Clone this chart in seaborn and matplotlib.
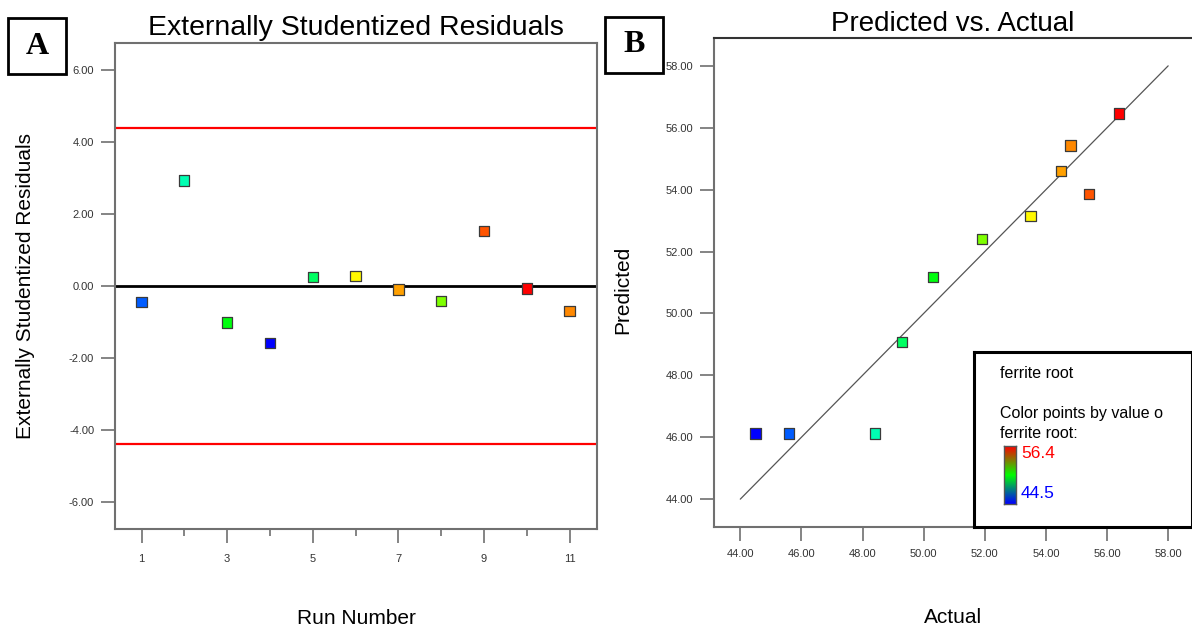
import colorsys

import matplotlib
matplotlib.use("Agg")
import matplotlib.pyplot as plt
from matplotlib.colors import ListedColormap, LinearSegmentedColormap
from matplotlib.patches import Rectangle
import numpy as np
import pandas as pd
import seaborn as sns

# ---- data -------------------------------------------------------------
run_number = [1, 2, 3, 4, 5, 6, 7, 8, 9, 10, 11]
ext_student_resid = [-0.44, 2.93, -1.01, -1.59, 0.25, 0.28, -0.10, -0.42, 1.52, -0.07, -0.69]
actual = [45.6, 48.4, 50.3, 44.5, 49.3, 53.5, 54.5, 51.9, 55.4, 56.4, 54.8]
predicted = [46.12, 46.12, 51.17, 46.12, 49.07, 53.14, 54.61, 52.40, 53.87, 56.46, 55.43]
outlier_limit = 4.40
ferrite_min, ferrite_max = 44.5, 56.4
diag_line = [44.0, 58.0]

a_xticks = [1, 3, 5, 7, 9, 11]
a_yticks = [-6, -4, -2, 0, 2, 4, 6]
b_ticks = [44, 46, 48, 50, 52, 54, 56, 58]

df = pd.DataFrame({"run": run_number, "resid": ext_student_resid,
                   "actual": actual, "predicted": predicted})

# ---- style ------------------------------------------------------------
sns.set_theme(style="ticks")
plt.rcParams["font.family"] = ["Liberation Sans", "DejaVu Sans"]
plt.rcParams["text.color"] = "black"
plt.rcParams["axes.labelcolor"] = "black"
SPINE = "#707070"
TICKFONT = dict(family=["Liberation Sans Narrow", "Liberation Sans", "DejaVu Sans"],
                size=8, color="#333333")

# hue sweep blue -> cyan -> green -> yellow -> red for the point colours
hue_cmap = ListedColormap([colorsys.hsv_to_rgb(h, 1.0, 1.0)
                           for h in np.linspace(240 / 360, 0, 256)])
# scale bar shading in the key box
bar_cmap = LinearSegmentedColormap.from_list("rgb_bar", ["#0000ff", "#00ff00", "#ff0000"])

W, H = 1192, 635
fig = plt.figure(figsize=(W / 100, H / 100), dpi=100)
fig.patch.set_facecolor("white")


def px_axes(x0, y0, x1, y1, **kw):
    return fig.add_axes([x0 / W, 1 - y1 / H, (x1 - x0) / W, (y1 - y0) / H], **kw)


def style_axes(ax):
    for s in ax.spines.values():
        s.set_color(SPINE)
        s.set_linewidth(1.5)
    ax.tick_params(which="both", direction="out", color=SPINE, width=1.2)
    ax.tick_params(which="major", length=10, pad=5)
    for lab in ax.get_xticklabels() + ax.get_yticklabels():
        lab.set_fontfamily(TICKFONT["family"])
        lab.set_fontsize(TICKFONT["size"])
        lab.set_color(TICKFONT["color"])


scatter_kw = dict(hue="actual", palette=hue_cmap, hue_norm=(ferrite_min, ferrite_max),
                  marker="s", s=55, edgecolor="#3a3a3a", linewidth=0.9,
                  legend=False, zorder=5)

# ---- panel A: externally studentized residuals -------------------------
axA = px_axes(115, 43, 597, 529)
axA.axhline(0, color="black", lw=2, zorder=2)
axA.axhline(outlier_limit, color="red", lw=1.6, zorder=2)
axA.axhline(-outlier_limit, color="red", lw=1.6, zorder=2)
sns.scatterplot(data=df, x="run", y="resid", ax=axA, **scatter_kw)
axA.set_xlim(0.38, 11.64)
axA.set_ylim(-6.75, 6.75)
axA.set_xticks(a_xticks)
axA.set_xticks(run_number, minor=True)
axA.set_xticklabels([str(v) for v in a_xticks])
axA.set_yticks(a_yticks)
axA.set_yticklabels([f"{v:.2f}" for v in a_yticks])
style_axes(axA)
axA.tick_params(axis="y", which="minor", length=0)
axA.tick_params(axis="x", which="minor", length=5)
axA.tick_params(axis="x", which="major", pad=8)
axA.set_title("Externally Studentized Residuals", fontsize=20.5, pad=6, color="black")
axA.set_xlabel("Run Number", fontsize=15)
axA.set_ylabel("Externally Studentized Residuals", fontsize=15)
axA.xaxis.set_label_coords(0.5, -0.165)
axA.yaxis.set_label_coords(-0.165, 0.5)

# ---- panel B: predicted vs actual --------------------------------------
axB = px_axes(714, 38, 1192, 527)
sns.lineplot(x=diag_line, y=diag_line, ax=axB, color="#555555", lw=0.9, zorder=3)
sns.scatterplot(data=df, x="actual", y="predicted", ax=axB, **scatter_kw)
axB.set_xlim(43.14, 58.78)
axB.set_ylim(43.1, 58.9)
axB.set_xticks(b_ticks)
axB.set_xticklabels([f"{v:.2f}" for v in b_ticks])
axB.set_yticks(b_ticks)
axB.set_yticklabels([f"{v:.2f}" for v in b_ticks])
style_axes(axB)
axB.spines["right"].set_visible(False)
axB.spines["top"].set_color("#333333")
axB.tick_params(axis="x", which="major", pad=6)
axB.set_title("Predicted vs. Actual", fontsize=20, pad=5, color="black")
axB.set_xlabel("Actual", fontsize=15)
axB.set_ylabel("Predicted", fontsize=15)
axB.xaxis.set_label_coords(0.5, -0.165)
axB.yaxis.set_label_coords(-0.172, 0.485)

# key box with colour scale
axK = px_axes(974, 352, 1192, 527)
axK.set_xticks([])
axK.set_yticks([])
axK.set_facecolor("white")
for s in axK.spines.values():
    s.set_color("black")
    s.set_linewidth(2.2)
axK.text(0.12, 0.875, "ferrite root", fontsize=11.5, va="center", transform=axK.transAxes)
axK.text(0.12, 0.65, "Color points by value o", fontsize=11.5, va="center",
         transform=axK.transAxes)
axK.text(0.12, 0.535, "ferrite root:", fontsize=11.5, va="center", transform=axK.transAxes)
axK.text(0.215, 0.42, f"{ferrite_max:.1f}", fontsize=12.5, color="red", va="center",
         transform=axK.transAxes)
axK.text(0.215, 0.19, f"{ferrite_min:.1f}", fontsize=12.5, color="blue", va="center",
         transform=axK.transAxes)

axC = px_axes(1004, 446, 1016, 504)
axC.imshow(np.linspace(0, 1, 128).reshape(-1, 1), cmap=bar_cmap, aspect="auto",
           origin="lower")
axC.set_xticks([])
axC.set_yticks([])
for s in axC.spines.values():
    s.set_color("#555555")
    s.set_linewidth(1)

# ---- panel letters ------------------------------------------------------
for (x0, y0, x1, y1), letter in [((8, 18, 66, 74), "A"), ((605, 17, 663, 73), "B")]:
    fig.patches.append(Rectangle((x0 / W, 1 - y1 / H), (x1 - x0) / W, (y1 - y0) / H,
                                 transform=fig.transFigure, fill=False,
                                 edgecolor="black", linewidth=2))
    fig.text((x0 + x1) / 2 / W, 1 - (y0 + y1) / 2 / H, letter, ha="center", va="center",
             fontsize=23, fontweight="bold", family=["Liberation Serif", "DejaVu Serif"])

fig.savefig("out.png", dpi=100, facecolor="white")
